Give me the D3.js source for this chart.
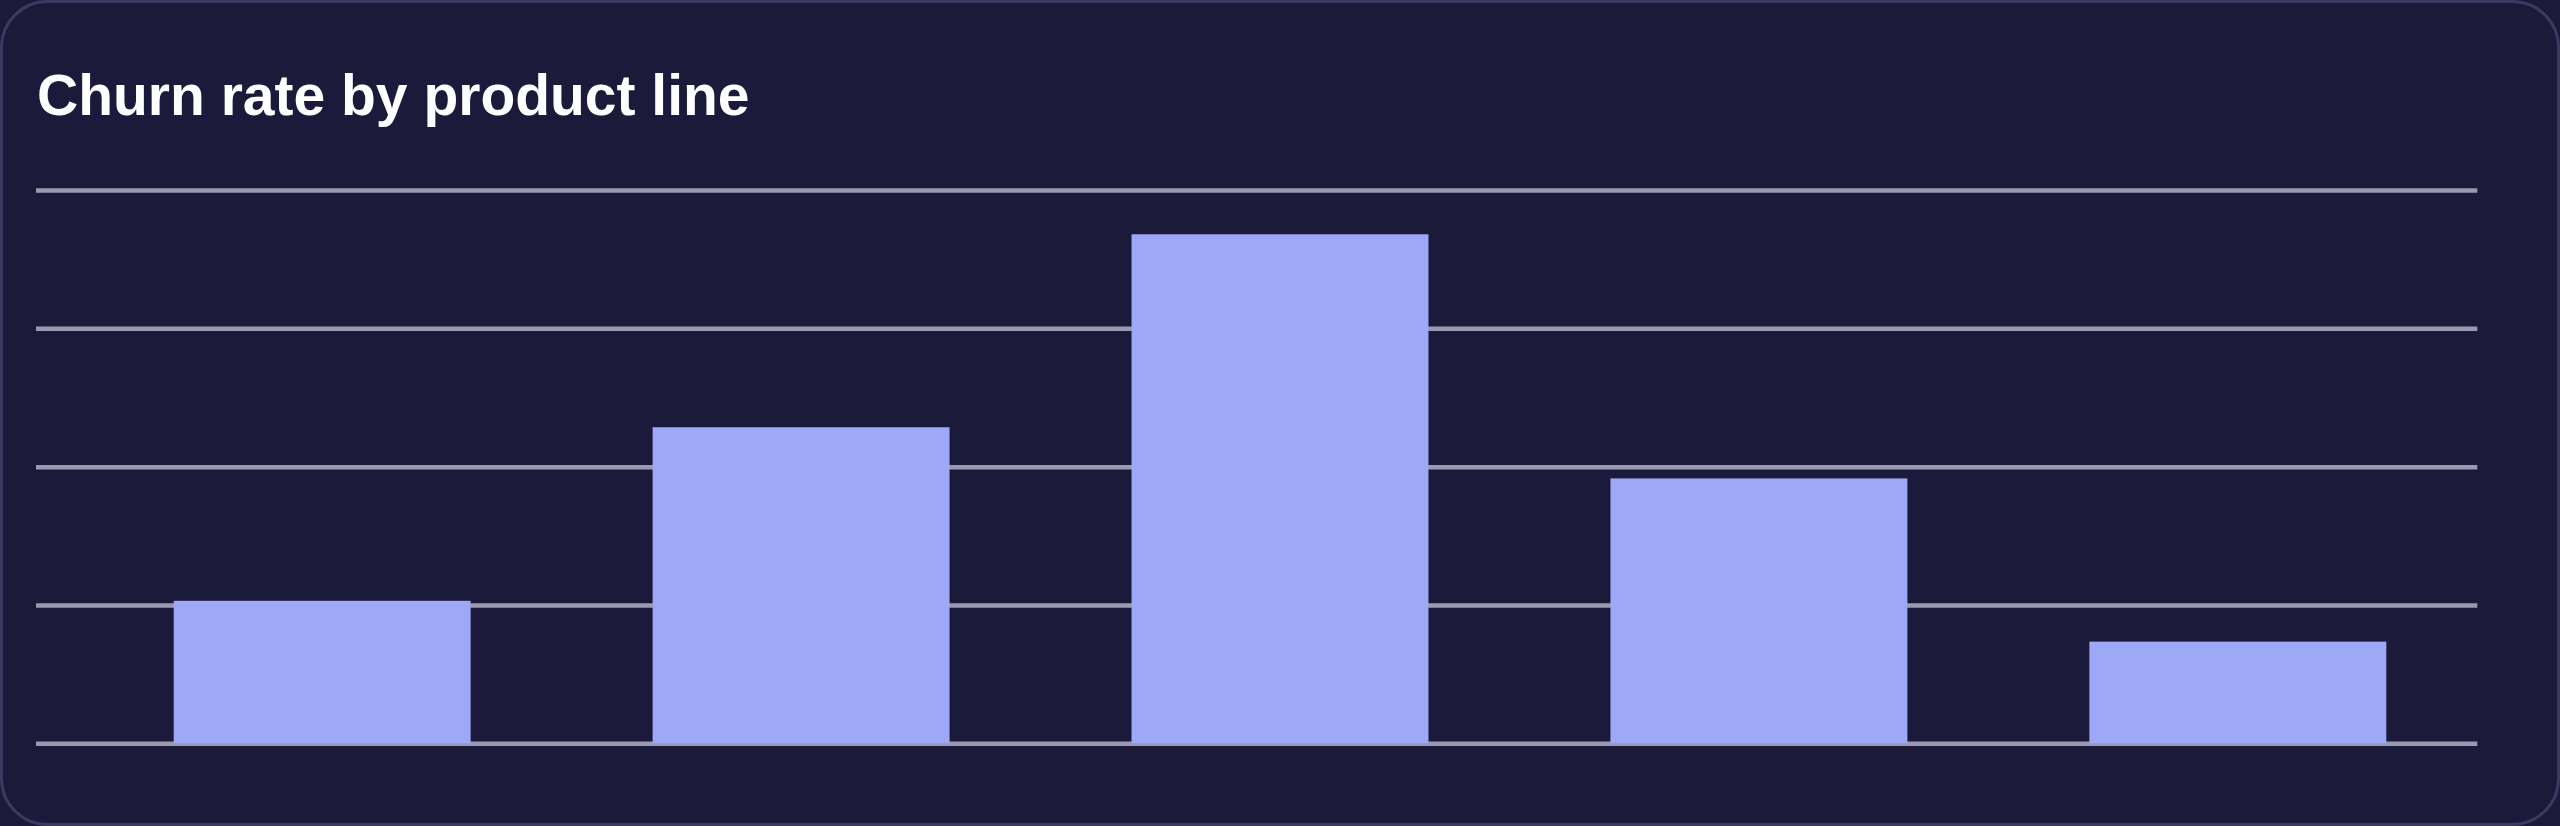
<!DOCTYPE html>
<html>
<head>
<meta charset="utf-8">
<script src="https://cdn.jsdelivr.net/npm/d3@7"></script>
<style>
  html, body { margin: 0; padding: 0; background: #1c1a3a; overflow: hidden; }
  svg { display: block; }
</style>
</head>
<body>
<svg id="chart" width="2560" height="826"></svg>
<script>
// Data
const categories = ["Core", "Plus", "Pro", "Teams", "Enterprise"];
const churnRates = [2.06, 4.57, 7.36, 3.83, 1.47];
const titleText = "Churn rate by product line";
const tickValues = [0, 2, 4, 6, 8];

const W = 2560, H = 826;
const svg = d3.select("#chart");

// Card
svg.append("rect")
  .attr("x", 1.5).attr("y", 1.5)
  .attr("width", W - 3).attr("height", H - 3)
  .attr("rx", 46).attr("ry", 46)
  .attr("fill", "#1c1a3a")
  .attr("stroke", "#3c3962")
  .attr("stroke-width", 3);

// Title
svg.append("text")
  .attr("x", 37).attr("y", 115)
  .attr("fill", "#ffffff")
  .style("font-family", "'Liberation Sans', Arial, Helvetica, sans-serif")
  .style("font-weight", "bold")
  .style("font-size", "57px")
  .text(titleText);

const gridLeft = 36, plotLeft = 82.7, plotRight = 2477.3;
const plotTop = 190, plotBottom = 743.3;

const x = d3.scaleBand()
  .domain(categories)
  .range([plotLeft, plotRight])
  .paddingInner(0.38)
  .paddingOuter(0.19);

const y = d3.scaleLinear()
  .domain([0, d3.max(tickValues)])
  .range([plotBottom, plotTop]);

// Gridlines
const grid = svg.append("g")
  .attr("transform", `translate(${gridLeft},0)`)
  .call(d3.axisLeft(y)
    .tickValues(tickValues)
    .tickSize(-(plotRight - gridLeft))
    .tickFormat(""));
grid.select(".domain").remove();
grid.selectAll(".tick line")
  .attr("stroke", "#9b99b1")
  .attr("stroke-width", 4.5);

// Bars
svg.append("g")
  .selectAll("rect")
  .data(categories.map((c, i) => ({ c, v: churnRates[i] })))
  .join("rect")
  .attr("x", d => x(d.c))
  .attr("width", x.bandwidth())
  .attr("y", d => y(d.v))
  .attr("height", d => y(0) - y(d.v))
  .attr("fill", "#9da8f7");
</script>
</body>
</html>
